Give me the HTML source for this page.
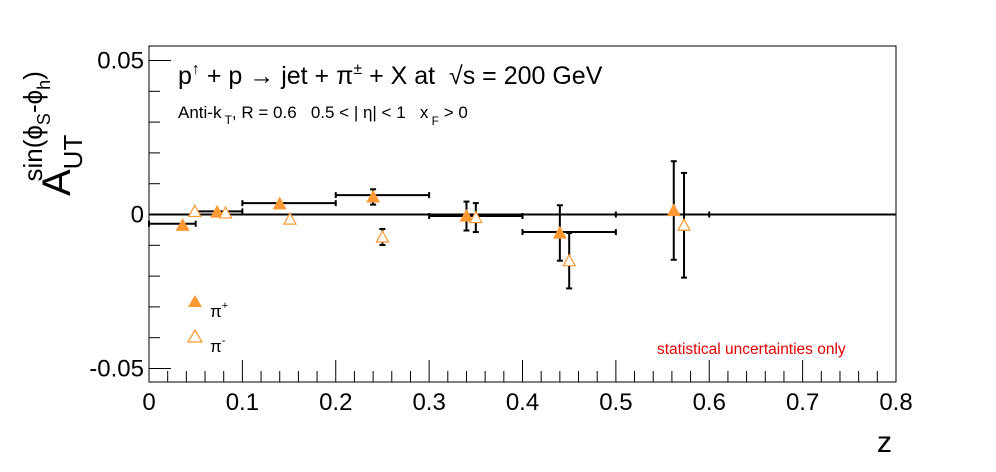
<!DOCTYPE html>
<html><head><meta charset="utf-8"><style>
html,body{margin:0;padding:0;background:#fff;}
svg{display:block;font-family:"Liberation Sans",Arial,sans-serif;}
text{white-space:pre;}
</style></head><body>
<svg id="chart" width="996" height="472" viewBox="0 0 996 472" xmlns="http://www.w3.org/2000/svg" xml:space="preserve">
<rect x="0" y="0" width="996" height="472" fill="#fff"/>
<g id="axes"></g>
<g id="marks"></g>
<text x="178" y="84" font-size="25">p<tspan font-size="16" dy="-10">↑</tspan><tspan dy="10"> + p → jet + π</tspan><tspan font-size="16" dy="-10">±</tspan><tspan dy="10"> + X at  √s = 200 GeV</tspan></text>
<text x="178" y="118" font-size="17">Anti-k<tspan font-size="12" dy="6"> T</tspan><tspan dy="-6">, R = 0.6   0.5 &lt; | η| &lt; 1   x</tspan><tspan font-size="12" dy="7"> F</tspan><tspan dy="-7"> &gt; 0</tspan></text>
<text x="657" y="354" font-size="15.5" fill="#e00000">statistical uncertainties only</text>
<g>
<polygon points="188,307 202,307 195,295" fill="#ff9933"/>
<text x="210" y="317" font-size="17">π<tspan font-size="11" dy="-8">+</tspan></text>
<polygon points="188,342 202,342 195,330" fill="none" stroke="#ff9933" stroke-width="1.3"/>
<text x="210" y="352" font-size="17">π<tspan font-size="11" dy="-8">-</tspan></text>
</g>
<text x="877" y="452" font-size="30">z</text>
<text transform="translate(70,196) rotate(-90)" font-size="40">A<tspan font-size="26" dy="12">UT</tspan><tspan font-size="26" dy="-40" dx="-44">sin(ϕ</tspan><tspan font-size="18" dy="8">S</tspan><tspan font-size="26" dy="-8">-ϕ</tspan><tspan font-size="18" dy="8">h</tspan><tspan font-size="26" dy="-8">)</tspan></text>
</svg>
<script>
const binLow=[0,0.05,0.1,0.2,0.3,0.4,0.5];
const binHigh=[0.05,0.1,0.2,0.3,0.4,0.5,0.6];
const binVal=[-0.003,0.001,0.0037,0.0063,-0.0005,-0.0057,0];
const piPlusZ=[0.036,0.073,0.14,0.24,0.34,0.44,0.562];
const piPlusA=[-0.0035,0.0008,0.0035,0.0057,-0.0005,-0.006,0.0013];
const piPlusErr=[0.0005,0.0005,0.0005,0.0025,0.0047,0.009,0.016];
const piMinusZ=[0.049,0.082,0.151,0.25,0.35,0.45,0.573];
const piMinusA=[0.001,0.0005,-0.0015,-0.0073,-0.001,-0.015,-0.0035];
const piMinusErr=[0.0005,0.0005,0.0005,0.0026,0.0047,0.009,0.017];
const yTicks=[0.05,0,-0.05];
const yTickLabels=["0.05","0","-0.05"];
const xTicks=[0,0.1,0.2,0.3,0.4,0.5,0.6,0.7,0.8];
const xTickLabels=["0","0.1","0.2","0.3","0.4","0.5","0.6","0.7","0.8"];

const X0=149,X1=896,Y0=46,Y1=382;
const sx=z=>X0+z*(X1-X0)/0.8;
const sy=a=>214.5-a*3080;
const NS="http://www.w3.org/2000/svg";
function mk(tag,attrs,parent){const e=document.createElementNS(NS,tag);for(const k in attrs)e.setAttribute(k,attrs[k]);parent.appendChild(e);return e;}
const ax=document.getElementById('axes'),mg=document.getElementById('marks');
let f=mk('rect',{x:X0,y:Y0,width:X1-X0,height:Y1-Y0,fill:'none',stroke:'#000','stroke-width':1},ax);


for(let i=-5;i<=5;i++){const v=i*0.01;const y=sy(v);if(y<Y0||y>Y1)continue;
 const major=(i%5===0);
 const t=mk('line',{x1:X0,x2:X0+(major?22:11),y1:y,y2:y,stroke:'#000','stroke-width':1},ax);
 
 }
yTicks.forEach((v,i)=>{const t=mk('text',{x:X0-5,y:sy(v)+8,'font-size':24,'text-anchor':'end'},ax);t.textContent=yTickLabels[i];
 
 });
for(let i=0;i<=40;i++){const v=i*0.02;const x=sx(v);const major=(i%5===0);
 const t=mk('line',{x1:x,x2:x,y1:Y1,y2:Y1-(major?22:11),stroke:'#000','stroke-width':1},ax);
 
 }
xTicks.forEach((v,i)=>{const t=mk('text',{x:sx(v),y:Y1+28,'font-size':24,'text-anchor':'middle'},ax);t.textContent=xTickLabels[i];
 
 });
let zl=mk('line',{x1:X0,x2:X1,y1:sy(0),y2:sy(0),stroke:'#000','stroke-width':2},ax);


binLow.forEach((lo,i)=>{const y=sy(binVal[i]);
 const g=mk('g',{},mg);
 
 
 mk('line',{x1:sx(lo),x2:sx(binHigh[i]),y1:y,y2:y,stroke:'#000','stroke-width':2},g);
 mk('line',{x1:sx(lo),x2:sx(lo),y1:y-3,y2:y+3,stroke:'#000','stroke-width':2},g);
 mk('line',{x1:sx(binHigh[i]),x2:sx(binHigh[i]),y1:y-3,y2:y+3,stroke:'#000','stroke-width':2},g);});
function series(zs,as,es,filled,name){zs.forEach((z,i)=>{const x=sx(z),y=sy(as[i]);
 const g=mk('g',{},mg);
 
 
 const yt=sy(as[i]+es[i]),yb=sy(as[i]-es[i]);
 if(yb-yt>10){mk('line',{x1:x,x2:x,y1:yt,y2:yb,stroke:'#000','stroke-width':2},g);
  mk('line',{x1:x-3,x2:x+3,y1:yt,y2:yt,stroke:'#000','stroke-width':2},g);
  mk('line',{x1:x-3,x2:x+3,y1:yb,y2:yb,stroke:'#000','stroke-width':2},g);}
 mk('polygon',{points:`${x-6},${y+5} ${x+6},${y+5} ${x},${y-6}`,fill:filled?'#ff9933':'#fff',stroke:'#ff9933','stroke-width':1.2},g);});}
series(piPlusZ,piPlusA,piPlusErr,true,'pi-plus-point');
series(piMinusZ,piMinusA,piMinusErr,false,'pi-minus-point');
</script>
</body></html>
